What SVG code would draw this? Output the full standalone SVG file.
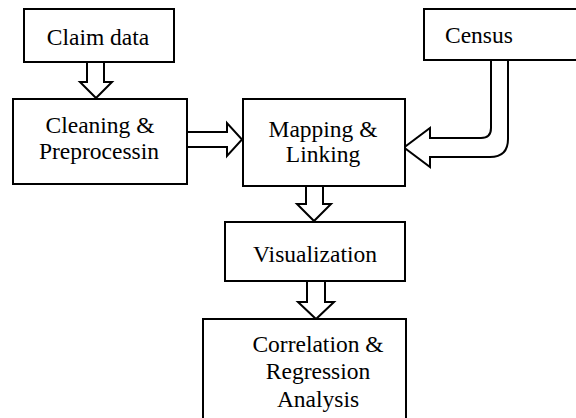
<svg xmlns="http://www.w3.org/2000/svg" width="576" height="418" viewBox="0 0 576 418">
<style>
.box{fill:#fff;stroke:#000;stroke-width:2}
.arr{fill:#fff;stroke:#000;stroke-width:2;stroke-linejoin:miter}
text{font-family:"Liberation Serif","Times New Roman",serif;font-size:23.5px;fill:#000}
.c{text-anchor:middle}
</style>
<rect width="576" height="418" fill="#fff"/>
<g id="connectors">
<path class="arr" d="M87,62 V82 H80 L96,98 L112,82 H104 V62"/>
<path class="arr" d="M187,132 H227 V123 L242,139.5 L227,156 V147 H187"/>
<path class="arr" d="M491,60 V128 Q491,138 481,138 H430 V128 L404,147.5 L430,167 V157 H490 Q508,157 508,139 V60"/>
<path class="arr" d="M306,186 V204 H297 L314,221 L331,204 H323 V186"/>
<path class="arr" d="M307,281 V302 H298 L316,319 L334,302 H325 V281"/>
</g>
<g id="claim">
<rect class="box" x="24" y="9" width="150" height="53"/>
<text class="c" x="98" y="45">Claim data</text>
</g>
<g id="cleaning">
<rect class="box" x="13" y="99" width="174" height="85"/>
<text class="c" x="100" y="133">Cleaning &amp;</text>
<text class="c" x="99" y="159">Preprocessin</text>
</g>
<g id="mapping">
<rect class="box" x="243" y="99" width="162" height="87"/>
<text class="c" x="323" y="137">Mapping &amp;</text>
<text class="c" x="323" y="162">Linking</text>
</g>
<g id="census">
<rect class="box" x="424" y="9" width="160" height="51"/>
<text x="445" y="43">Census</text>
</g>
<g id="visualization">
<rect class="box" x="225" y="222" width="180" height="59"/>
<text class="c" x="315" y="262">Visualization</text>
</g>
<g id="correlation">
<rect class="box" x="203" y="319" width="203" height="110"/>
<text class="c" x="318" y="352">Correlation &amp;</text>
<text class="c" x="318" y="379">Regression</text>
<text class="c" x="318" y="407">Analysis</text>
</g>
</svg>
